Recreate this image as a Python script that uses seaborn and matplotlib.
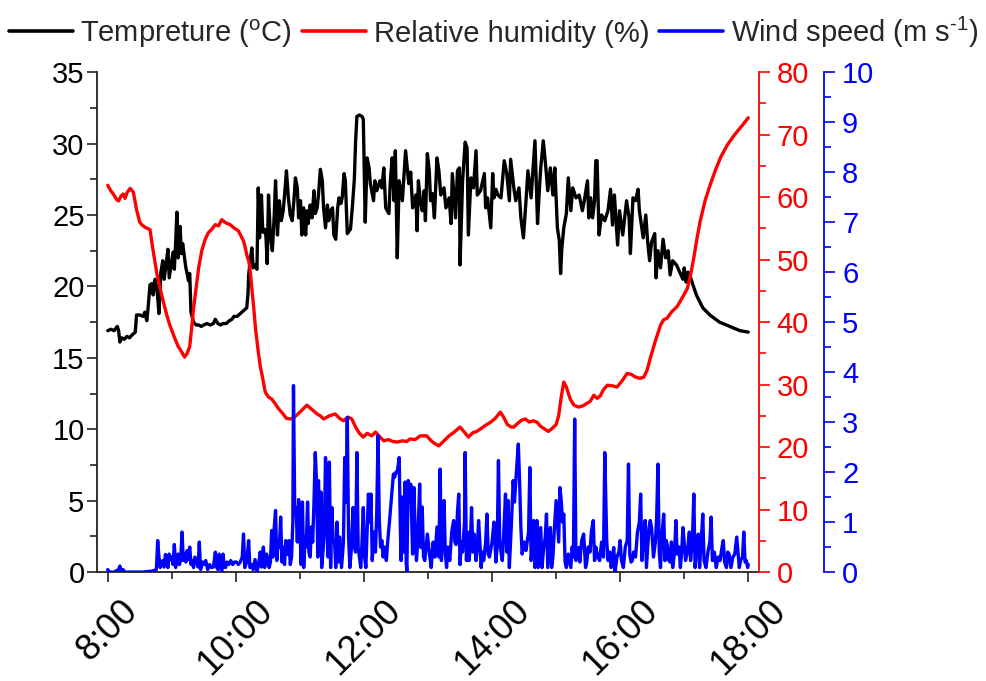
import matplotlib
matplotlib.use("Agg")
import matplotlib.pyplot as plt
import matplotlib.transforms as mtransforms
from matplotlib.ticker import MultipleLocator, FixedLocator
from matplotlib.lines import Line2D
import seaborn as sns

# ---------------- data ----------------
temp_time = [8.00, 8.05, 8.10, 8.15, 8.17, 8.19, 8.22, 8.26, 8.30, 8.34, 8.38, 8.43, 8.45, 8.50, 8.55, 8.58,
             8.61, 8.63, 8.66, 8.69, 8.71, 8.74, 8.77, 8.80, 8.83, 8.86, 8.88, 8.91, 8.94, 8.96, 8.99, 9.02,
             9.04, 9.06, 9.08, 9.10, 9.13, 9.15, 9.17, 9.20, 9.22, 9.24, 9.26, 9.28, 9.30, 9.34, 9.38, 9.42,
             9.46, 9.50, 9.55, 9.60, 9.65, 9.68, 9.72, 9.76, 9.80, 9.85, 9.90, 9.94, 9.97, 10.02, 10.07, 10.12,
             10.17, 10.19, 10.20, 10.22, 10.25, 10.27, 10.30, 10.33, 10.35, 10.37, 10.40, 10.42, 10.45, 10.47,
             10.49, 10.51, 10.54, 10.57, 10.60, 10.62, 10.65, 10.68, 10.71, 10.74, 10.77, 10.79, 10.82, 10.85,
             10.88, 10.91, 10.93, 10.96, 10.98, 11.01, 11.03, 11.06, 11.09, 11.11, 11.13, 11.16, 11.19, 11.22,
             11.24, 11.27, 11.29, 11.32, 11.35, 11.37, 11.40, 11.43, 11.45, 11.48, 11.51, 11.53, 11.56, 11.59,
             11.61, 11.64, 11.66, 11.69, 11.71, 11.74, 11.77, 11.79, 11.82, 11.85, 11.87, 11.89, 11.93, 11.97,
             11.99, 12.02, 12.05, 12.08, 12.10, 12.15, 12.17, 12.20, 12.25, 12.28, 12.31, 12.34, 12.39, 12.41,
             12.44, 12.47, 12.49, 12.52, 12.55, 12.60, 12.65, 12.70, 12.73, 12.76, 12.81, 12.83, 12.85, 12.88,
             12.91, 12.94, 12.96, 12.99, 13.02, 13.04, 13.07, 13.10, 13.14, 13.17, 13.20, 13.25, 13.28, 13.33,
             13.36, 13.38, 13.43, 13.46, 13.49, 13.50, 13.54, 13.58, 13.61, 13.63, 13.67, 13.71, 13.75, 13.77,
             13.82, 13.88, 13.90, 13.93, 13.98, 14.01, 14.03, 14.06, 14.09, 14.14, 14.19, 14.23, 14.27, 14.29,
             14.34, 14.37, 14.42, 14.45, 14.49, 14.53, 14.56, 14.61, 14.63, 14.67, 14.71, 14.74, 14.76, 14.80,
             14.84, 14.87, 14.91, 14.95, 14.98, 15.02, 15.05, 15.07, 15.09, 15.12, 15.16, 15.19, 15.23, 15.26,
             15.31, 15.36, 15.41, 15.44, 15.49, 15.51, 15.54, 15.57, 15.60, 15.62, 15.64, 15.67, 15.71, 15.76,
             15.81, 15.85, 15.88, 15.91, 15.96, 15.99, 16.04, 16.10, 16.14, 16.16, 16.20, 16.24, 16.28, 16.30,
             16.36, 16.40, 16.43, 16.46, 16.49, 16.54, 16.56, 16.59, 16.63, 16.67, 16.71, 16.75, 16.78, 16.82,
             16.88, 16.93, 16.98, 17.00, 17.03, 17.06, 17.10, 17.19, 17.29, 17.40, 17.55, 17.71, 17.87, 18.00]
temp_c = [16.9, 17.0, 16.9, 17.2, 16.9, 16.1, 16.4, 16.3, 16.5, 16.4, 16.6, 16.8, 18.0, 18.0, 17.9, 18.2,
          17.6, 18.5, 20.1, 20.2, 19.4, 20.5, 19.8, 18.1, 21.0, 21.8, 20.5, 21.5, 22.6, 20.6, 21.5, 22.4,
          21.2, 23.0, 25.2, 22.0, 24.2, 22.3, 23.0, 22.0, 21.3, 20.9, 20.4, 20.9, 18.2, 17.5, 17.3, 17.3,
          17.2, 17.3, 17.4, 17.3, 17.4, 17.7, 17.4, 17.3, 17.4, 17.4, 17.6, 17.7, 17.9, 17.9, 18.1, 18.3,
          18.5, 19.5, 20.8, 21.6, 22.7, 21.3, 21.5, 21.2, 26.9, 23.4, 26.4, 23.8, 24.0, 23.5,
          21.6, 26.4, 23.5, 22.5, 25.0, 27.4, 23.6, 26.0, 24.6, 25.3, 26.9, 28.1, 26.2, 25.0,
          24.6, 26.2, 27.6, 26.9, 24.8, 26.0, 23.6, 25.5, 23.6, 25.3, 24.4, 25.7, 24.8, 26.7,
          25.1, 25.5, 26.4, 28.2, 27.4, 25.5, 24.1, 25.7, 24.6, 25.3, 25.5, 23.6, 23.3, 25.5,
          26.2, 25.8, 26.2, 27.9, 27.4, 23.7, 23.9, 24.0, 25.6, 27.5, 30.2, 31.9, 32.0, 31.9,
          31.7, 24.5, 29.0, 28.3, 27.2, 26.0, 27.4, 26.7, 27.4, 26.9, 28.3, 25.5, 25.1, 27.2,
          29.0, 26.0, 29.5, 22.0, 27.4, 26.0, 29.5, 27.2, 28.0, 25.5, 26.4, 23.9, 27.4, 26.0,
          25.3, 26.7, 24.6, 29.3, 28.1, 26.0, 26.5, 24.8, 29.0, 28.1, 26.4, 26.9, 25.5, 26.2,
          24.4, 27.9, 24.8, 28.1, 28.3, 21.5, 27.4, 30.1, 29.7, 23.6, 27.6, 26.9, 29.5, 26.4,
          26.7, 27.9, 25.5, 26.2, 24.1, 27.9, 26.2, 26.8, 26.4, 26.2, 28.8, 27.9, 26.0, 28.9,
          26.9, 26.0, 26.9, 24.8, 23.4, 26.0, 28.1, 26.2, 27.6, 30.2, 24.4, 26.9, 28.3, 30.2,
          28.3, 26.7, 28.3, 26.4, 28.3, 24.1, 23.2, 20.9, 22.7, 24.1, 25.1, 27.6, 25.3, 26.9,
          26.2, 26.4, 25.3, 26.0, 27.4, 24.8, 26.2, 24.8, 26.0, 28.8, 28.8, 23.6, 25.0, 24.6,
          25.3, 26.8, 24.3, 26.4, 22.9, 25.3, 23.6, 26.0, 24.8, 22.3, 26.2, 26.0, 26.8, 25.3,
          23.4, 25.0, 23.1, 21.8, 23.1, 23.7, 20.6, 22.5, 21.3, 23.3, 22.0, 22.5, 20.8, 21.8,
          21.5, 21.0, 20.5, 21.3, 20.3, 21.0, 20.6, 19.4, 18.5, 18.0, 17.5, 17.2, 16.9, 16.8]

rh_time = [8.00, 8.05, 8.10, 8.14, 8.17, 8.21, 8.24, 8.27, 8.30, 8.35, 8.40, 8.45, 8.50, 8.53, 8.58, 8.66,
           8.70, 8.77, 8.85, 8.92, 8.97, 9.04, 9.10, 9.15, 9.20, 9.24, 9.28, 9.31, 9.34, 9.38, 9.42, 9.47,
           9.52, 9.57, 9.62, 9.68, 9.73, 9.78, 9.84, 9.91, 9.97, 10.04, 10.08, 10.12, 10.15, 10.17, 10.20,
           10.22, 10.25, 10.28, 10.31, 10.35, 10.38, 10.41, 10.46, 10.51, 10.56, 10.61, 10.67, 10.73, 10.79,
           10.85, 10.90, 10.95, 11.03, 11.11, 11.19, 11.27, 11.32, 11.37, 11.46, 11.55, 11.62, 11.68, 11.75,
           11.81, 11.87, 11.93, 11.99, 12.05, 12.12, 12.18, 12.25, 12.31, 12.38, 12.45, 12.52, 12.60, 12.67,
           12.72, 12.80, 12.88, 12.98, 13.05, 13.10, 13.17, 13.25, 13.33, 13.42, 13.50, 13.56, 13.63, 13.70,
           13.76, 13.82, 13.90, 13.98, 14.05, 14.13, 14.18, 14.24, 14.30, 14.34, 14.40, 14.46, 14.52, 14.58,
           14.64, 14.70, 14.76, 14.82, 14.88, 14.94, 15.00, 15.04, 15.08, 15.12, 15.16, 15.22, 15.28, 15.35,
           15.42, 15.48, 15.53, 15.59, 15.64, 15.69, 15.74, 15.80, 15.88, 15.95, 16.03, 16.11, 16.18, 16.24,
           16.31, 16.37, 16.42, 16.47, 16.55, 16.63, 16.68, 16.73, 16.80, 16.89, 16.97, 17.05, 17.10, 17.15,
           17.20, 17.25, 17.33, 17.41, 17.49, 17.57, 17.67, 17.78, 17.90, 18.00]
rh_pct = [61.9, 61.0, 60.3, 59.6, 59.4, 60.2, 60.5, 59.8, 60.7, 61.4, 60.8, 58.0, 56.0, 55.6, 55.2, 54.8,
          52.0, 47.6, 44.0, 41.2, 39.5, 37.6, 36.1, 35.3, 34.4, 35.0, 36.1, 39.0, 42.2, 45.5, 48.7, 51.5,
          53.2, 54.3, 54.8, 55.6, 55.4, 56.4, 55.9, 55.6, 55.1, 54.6, 53.8, 53.0, 51.8, 50.8, 49.8,
          48.7, 45.5, 42.2, 38.7, 35.3, 33.0, 31.5, 28.8, 28.0, 27.7, 27.0, 26.1, 25.4, 24.6,
          24.5, 24.7, 25.1, 25.9, 26.7, 26.0, 25.3, 25.0, 24.5, 25.0, 25.3, 24.6, 24.2, 24.8,
          24.5, 23.2, 22.2, 21.6, 22.2, 21.8, 22.4, 21.6, 21.0, 21.2, 20.9, 20.8, 21.0, 20.9,
          21.3, 21.2, 21.8, 21.8, 21.0, 20.6, 20.2, 21.0, 21.8, 22.5, 23.2, 22.5, 21.6, 22.3,
          22.5, 22.9, 23.5, 24.0, 24.6, 25.6, 24.8, 23.6, 23.2, 23.2, 23.8, 24.3, 24.5, 24.0,
          24.2, 24.0, 23.3, 22.9, 22.5, 23.0, 23.6, 25.0, 28.0, 30.4, 29.6, 27.7, 26.7, 26.4,
          26.6, 27.0, 27.3, 28.3, 27.8, 28.2, 29.2, 29.9, 29.8, 29.6, 30.6, 31.8, 31.6, 31.2,
          31.0, 31.2, 32.3, 34.2, 37.0, 39.5, 40.4, 40.6, 41.6, 42.5, 43.9, 45.4, 47.6, 50.3,
          53.4, 56.2, 59.6, 62.1, 64.4, 66.4, 68.3, 69.9, 71.4, 72.7]

wind_time = [8.00, 8.02, 8.10, 8.17, 8.19, 8.21, 8.24, 8.26, 8.40, 8.55, 8.70, 8.76, 8.78, 8.80, 8.82, 8.84,
             8.86, 8.88, 8.90, 8.92, 8.94, 8.96, 8.98, 9.00, 9.02, 9.04, 9.06, 9.08, 9.10, 9.12, 9.14, 9.16,
             9.18, 9.20, 9.22, 9.24, 9.26, 9.28, 9.30, 9.32, 9.34, 9.36, 9.38, 9.41, 9.43, 9.45, 9.48, 9.50,
             9.53, 9.56, 9.59, 9.62, 9.65, 9.68, 9.70, 9.72, 9.74, 9.76, 9.78, 9.80, 9.82, 9.84, 9.86, 9.89,
             9.92, 9.95, 9.98, 10.01, 10.04, 10.07, 10.10, 10.12, 10.14, 10.17, 10.20, 10.22, 10.25, 10.27,
             10.30, 10.33, 10.36, 10.38, 10.40, 10.43, 10.45, 10.48, 10.50, 10.52, 10.54, 10.56, 10.58, 10.60,
             10.62, 10.64, 10.66, 10.68, 10.70, 10.72, 10.74, 10.76, 10.78, 10.80, 10.83, 10.85, 10.87, 10.89,
             10.90, 10.92, 10.94, 10.96, 10.98, 11.00, 11.02, 11.04, 11.06, 11.08, 11.10, 11.12, 11.14, 11.16,
             11.18, 11.20, 11.22, 11.24, 11.26, 11.28, 11.29, 11.31, 11.33, 11.34, 11.36, 11.38, 11.40, 11.42,
             11.44, 11.46, 11.48, 11.50, 11.52, 11.54, 11.56, 11.58, 11.60, 11.62, 11.65, 11.68, 11.70, 11.72,
             11.74, 11.76, 11.78, 11.80, 11.83, 11.85, 11.87, 11.89, 11.91, 11.93, 11.95, 11.97, 11.99, 12.01,
             12.03, 12.05, 12.07, 12.09, 12.11, 12.13, 12.15, 12.18, 12.20, 12.22, 12.24, 12.26, 12.28, 12.30,
             12.32, 12.35, 12.37, 12.40, 12.43, 12.46, 12.48, 12.50, 12.52, 12.55, 12.57, 12.58, 12.60, 12.62,
             12.64, 12.66, 12.67, 12.69, 12.71, 12.73, 12.76, 12.78, 12.80, 12.82, 12.84, 12.87, 12.89, 12.91,
             12.93, 12.95, 12.99, 13.02, 13.05, 13.08, 13.11, 13.14, 13.17, 13.19, 13.21, 13.23, 13.25, 13.27,
             13.29, 13.31, 13.34, 13.37, 13.40, 13.42, 13.44, 13.46, 13.48, 13.50, 13.52, 13.54, 13.57, 13.58,
             13.60, 13.62, 13.64, 13.66, 13.68, 13.70, 13.72, 13.75, 13.77, 13.79, 13.81, 13.83, 13.85, 13.87,
             13.90, 13.92, 13.94, 13.96, 14.00, 14.03, 14.06, 14.08, 14.10, 14.12, 14.14, 14.16, 14.18, 14.21,
             14.23, 14.25, 14.27, 14.30, 14.33, 14.35, 14.38, 14.41, 14.43, 14.45, 14.47, 14.50, 14.53, 14.57,
             14.59, 14.61, 14.63, 14.65, 14.67, 14.69, 14.70, 14.72, 14.74, 14.76, 14.78, 14.80, 14.83, 14.85,
             14.87, 14.89, 14.91, 14.93, 14.95, 14.97, 15.00, 15.02, 15.04, 15.06, 15.08, 15.10, 15.12, 15.14,
             15.16, 15.19, 15.23, 15.25, 15.27, 15.29, 15.31, 15.33, 15.35, 15.37, 15.40, 15.43, 15.46, 15.48,
             15.50, 15.53, 15.55, 15.58, 15.60, 15.62, 15.65, 15.68, 15.71, 15.74, 15.76, 15.79, 15.81, 15.84,
             15.86, 15.88, 15.90, 15.92, 15.95, 15.98, 16.00, 16.02, 16.05, 16.08, 16.11, 16.13, 16.15, 16.17,
             16.19, 16.21, 16.24, 16.27, 16.30, 16.32, 16.34, 16.36, 16.39, 16.41, 16.43, 16.45, 16.47, 16.49,
             16.52, 16.55, 16.57, 16.59, 16.61, 16.63, 16.65, 16.68, 16.70, 16.72, 16.74, 16.76, 16.78, 16.80,
             16.82, 16.85, 16.87, 16.89, 16.92, 16.94, 16.96, 16.98, 17.00, 17.02, 17.05, 17.08, 17.10, 17.13,
             17.15, 17.17, 17.19, 17.22, 17.24, 17.26, 17.29, 17.31, 17.34, 17.37, 17.40, 17.42, 17.44, 17.47,
             17.50, 17.53, 17.56, 17.59, 17.61, 17.63, 17.66, 17.68, 17.70, 17.73, 17.76, 17.79, 17.82, 17.84,
             17.86, 17.88, 17.91, 17.93, 17.95, 17.97, 17.99, 18.00]
wind_ms = [0.05, 0.00, 0.00, 0.05, 0.12, 0.00, 0.05, 0.00, 0.00, 0.00, 0.02, 0.05, 0.63, 0.30, 0.09, 0.20,
           0.23, 0.10, 0.35, 0.33, 0.09, 0.36, 0.25, 0.30, 0.15, 0.55, 0.09, 0.30, 0.36, 0.15, 0.25, 0.80,
           0.23, 0.36, 0.20, 0.43, 0.25, 0.50, 0.15, 0.23, 0.09, 0.30, 0.23, 0.10, 0.60, 0.05, 0.20, 0.15,
           0.23, 0.05, 0.15, 0.09, 0.10, 0.40, 0.10, 0.05, 0.36, 0.15, 0.00, 0.36, 0.10, 0.09, 0.20, 0.15,
           0.23, 0.15, 0.20, 0.20, 0.15, 0.20, 0.30, 0.76, 0.09, 0.20, 0.63, 0.09, 0.15, 0.05,
           0.25, 0.00, 0.20, 0.40, 0.10, 0.50, 0.09, 0.36, 0.25, 0.09, 0.20, 0.83, 0.30, 0.90,
           1.23, 0.23, 0.60, 0.50, 1.10, 0.20, 0.50, 0.15, 0.63, 0.35, 0.63, 0.15, 0.30, 1.00,
           3.73, 1.16, 1.29, 0.60, 1.45, 0.90, 0.15, 1.40, 0.09, 0.70, 0.50, 1.40, 0.40, 0.30,
           0.90, 0.60, 1.40, 2.39, 1.80, 0.30, 1.83, 0.76, 1.60, 0.09, 0.40, 0.70, 2.29, 1.50,
           0.30, 2.20, 0.09, 1.29, 0.60, 0.63, 0.09, 1.00, 0.20, 0.70, 0.09, 0.60, 2.29, 1.40,
           3.09, 0.70, 0.09, 0.40, 1.29, 0.50, 0.40, 2.39, 0.49, 0.30, 0.09, 0.60, 1.29, 0.30,
           0.09, 0.80, 1.56, 1.00, 1.56, 0.23, 0.80, 0.40, 1.20, 2.73, 1.03, 0.50, 0.63, 0.30,
           0.50, 0.23, 0.60, 1.03, 1.50, 1.96, 1.90, 2.00, 1.99, 2.29, 0.80, 0.23, 1.50, 0.40,
           1.80, 0.20, 0.00, 1.83, 1.40, 1.76, 0.36, 1.69, 0.80, 0.23, 0.60, 1.76, 0.49, 1.30,
           0.30, 0.23, 0.76, 0.40, 0.09, 0.60, 0.30, 0.90, 0.30, 2.06, 0.23, 0.70, 1.43, 0.40,
           0.09, 0.50, 0.23, 0.80, 1.03, 0.60, 0.55, 1.20, 1.56, 0.15, 0.60, 0.40, 1.00, 2.39,
           0.23, 0.80, 0.23, 0.50, 1.29, 0.40, 0.76, 0.23, 0.50, 1.03, 0.60, 0.09, 0.40, 0.23,
           0.60, 1.16, 0.36, 0.30, 0.60, 1.00, 0.20, 0.50, 2.23, 0.63, 0.40, 0.23, 0.70, 1.56,
           0.40, 1.43, 0.09, 0.90, 1.83, 1.40, 2.00, 2.56, 1.83, 0.90, 0.36, 0.60, 0.43, 0.80,
           2.09, 0.23, 0.50, 1.03, 0.09, 0.30, 1.03, 0.09, 0.50, 0.89, 0.09, 0.40, 0.70, 1.16,
           0.09, 0.50, 0.89, 0.09, 0.30, 0.80, 1.43, 1.00, 0.60, 1.69, 1.43, 1.00, 1.16, 0.20,
           0.09, 0.36, 0.09, 0.50, 0.30, 3.06, 0.23, 0.40, 0.49, 0.20, 0.63, 0.76, 0.09, 0.20,
           0.50, 0.40, 0.80, 1.03, 0.23, 0.50, 0.30, 0.23, 0.60, 0.30, 2.39, 0.63, 0.23, 0.40,
           0.09, 0.30, 0.49, 0.00, 0.30, 0.40, 0.63, 0.23, 0.09, 0.50, 0.63, 2.16, 0.36, 0.20,
           0.23, 0.40, 0.30, 0.80, 1.00, 1.56, 0.23, 0.60, 1.03, 0.09, 0.50, 0.89, 1.03, 0.89,
           0.30, 0.60, 1.10, 2.16, 0.40, 0.09, 0.70, 1.16, 0.23, 0.63, 0.50, 0.23, 0.20, 0.60,
           0.09, 0.40, 1.03, 0.36, 0.50, 0.09, 0.40, 0.89, 0.60, 0.23, 0.40, 0.80, 0.23, 0.70,
           1.56, 0.09, 0.40, 0.76, 0.09, 0.50, 1.16, 0.23, 0.09, 0.40, 0.60, 1.10, 0.23, 0.40,
           0.09, 0.30, 0.23, 0.50, 0.63, 0.20, 0.09, 0.40, 0.36, 0.09, 0.30, 0.36, 0.70, 0.40,
           0.09, 0.23, 0.30, 0.80, 0.20, 0.23, 0.09, 0.15]

hour_ticks = [8, 10, 12, 14, 16, 18]
hour_labels = ["8:00", "10:00", "12:00", "14:00", "16:00", "18:00"]
label_temp = r"Tempreture ($^{\mathregular{o}}$C)"
label_rh = "Relative humidity (%)"
label_wind = "Wind speed (m s$^{\\mathregular{\u2010}1}$)"

assert len(temp_time) == len(temp_c)
assert len(rh_time) == len(rh_pct)
assert len(wind_time) == len(wind_ms)

# ---------------- style ----------------
sns.set_style("ticks")
plt.rcParams["font.family"] = ["Liberation Sans", "DejaVu Sans"]
plt.rcParams["mathtext.fontset"] = "custom"
plt.rcParams["mathtext.rm"] = "Liberation Sans"
plt.rcParams["mathtext.it"] = "Liberation Sans:italic"
plt.rcParams["mathtext.default"] = "regular"
plt.rcParams["axes.unicode_minus"] = False

BLACK, RED, BLUE = "#000000", "#ff0000", "#0000ff"
FS = 21
LW = 2.4

fig = plt.figure(figsize=(9.87, 6.81), dpi=100)
ax = fig.add_axes([0.0983, 0.160, 0.6704, 0.734])
ax2 = ax.twinx()
ax3 = ax.twinx()

sns.lineplot(x=temp_time, y=temp_c, ax=ax, color=BLACK, linewidth=LW, estimator=None, sort=False)
sns.lineplot(x=rh_time, y=rh_pct, ax=ax2, color=RED, linewidth=LW, estimator=None, sort=False)
sns.lineplot(x=wind_time, y=wind_ms, ax=ax3, color=BLUE, linewidth=LW, estimator=None, sort=False)

ax.set_xlim(7.833, 18.163)
ax.set_ylim(0, 35)
ax2.set_ylim(0, 80)
ax3.set_ylim(0, 10)
for a in (ax, ax2, ax3):
    a.set_xlabel("")
    a.set_ylabel("")

# spines
ax.spines["top"].set_visible(False)
ax.spines["right"].set_visible(False)
for s in ("left", "bottom"):
    ax.spines[s].set_color("#222222")
    ax.spines[s].set_linewidth(1.3)
for a, col in ((ax2, RED), (ax3, BLUE)):
    for s in ("left", "top", "bottom"):
        a.spines[s].set_visible(False)
    a.spines["right"].set_color(col)
    a.spines["right"].set_linewidth(1.3)
ax3.spines["right"].set_position(("axes", 1.0987))

# ticks
ax.xaxis.set_major_locator(FixedLocator(hour_ticks))
ax.set_xticks(hour_ticks)
ax.set_xticklabels(hour_labels)
ax.xaxis.set_minor_locator(MultipleLocator(1))
ax.yaxis.set_major_locator(MultipleLocator(5))
ax.yaxis.set_minor_locator(MultipleLocator(2.5))
ax2.yaxis.set_major_locator(MultipleLocator(10))
ax2.yaxis.set_minor_locator(MultipleLocator(5))
ax3.yaxis.set_major_locator(MultipleLocator(1))
ax3.yaxis.set_minor_locator(MultipleLocator(0.5))

ax.tick_params(axis="both", which="major", direction="out", length=7, width=1.2, color="#222222",
               labelsize=FS, labelcolor=BLACK)
ax.tick_params(axis="both", which="minor", direction="out", length=5, width=1.2, color="#222222")
ax.tick_params(axis="y", which="major", pad=2)
ax.tick_params(axis="x", which="major", labelsize=26, pad=8)
ax.tick_params(axis="x", which="both", bottom=True, top=False)
ax.tick_params(axis="y", which="both", left=True, right=False)

for a, col in ((ax2, RED), (ax3, BLUE)):
    a.tick_params(axis="y", which="major", direction="out", length=8, width=1.2, color=col,
                  labelsize=FS, labelcolor=col, pad=5, right=True, left=False)
    a.tick_params(axis="y", which="minor", direction="out", length=5, width=1.2, color=col,
                  right=True, left=False)

for lbl in ax.get_xticklabels():
    lbl.set_rotation(45)
    lbl.set_horizontalalignment("center")

# legend
handles = [Line2D([], [], color=BLACK, lw=2.6), Line2D([], [], color=RED, lw=2.6),
           Line2D([], [], color=BLUE, lw=2.6)]
fig.legend(handles, [label_temp, label_rh, label_wind], loc="center", bbox_to_anchor=(0.5, 0.953),
           ncol=3, frameon=False, fontsize=FS, handlelength=2.2, handletextpad=0.25,
           columnspacing=0.35, borderaxespad=0, borderpad=0)

fig.savefig("out.png", dpi=100)
